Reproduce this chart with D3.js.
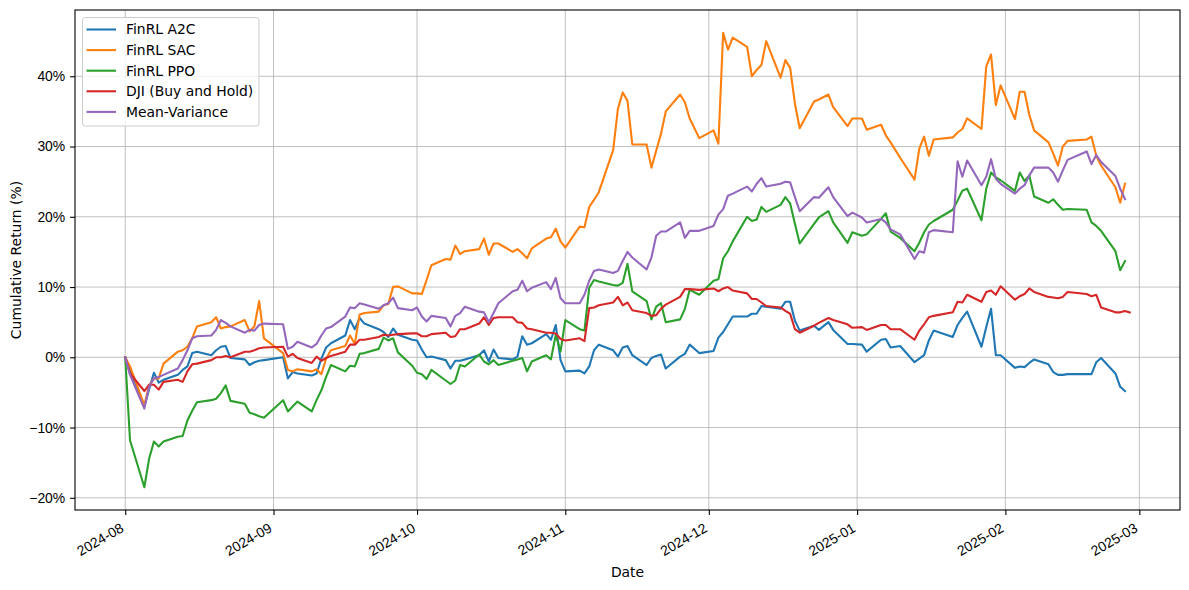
<!DOCTYPE html>
<html>
<head>
<meta charset="utf-8">
<script src="https://cdn.jsdelivr.net/npm/d3@7"></script>
<style>
    body { margin: 0; background: #fff; }
    svg { font-family: "DejaVu Sans", sans-serif; }
    .grid line { stroke: #b0b0b0; stroke-width: 0.8px; }
    .axis text { font-size: 13.9px; fill: #000; }
    .axis line, .axis path { stroke: #000; stroke-width: 1.1px; }
</style>
</head>
<body>
<div id="chart"></div>
<script>
"use strict";

// trading days shown on the chart (DJI has one more day than the strategies)
const dates = [
    "2024-08-01", "2024-08-02", "2024-08-05", "2024-08-06", "2024-08-07", "2024-08-08", "2024-08-09",
    "2024-08-12", "2024-08-13", "2024-08-14", "2024-08-15", "2024-08-16", "2024-08-19", "2024-08-20",
    "2024-08-21", "2024-08-22", "2024-08-23", "2024-08-26", "2024-08-27", "2024-08-28", "2024-08-29",
    "2024-08-30",
    "2024-09-03", "2024-09-04", "2024-09-05", "2024-09-06", "2024-09-09", "2024-09-10", "2024-09-11",
    "2024-09-12", "2024-09-13", "2024-09-16", "2024-09-17", "2024-09-18", "2024-09-19", "2024-09-20",
    "2024-09-23", "2024-09-24", "2024-09-25", "2024-09-26", "2024-09-27", "2024-09-30",
    "2024-10-01", "2024-10-02", "2024-10-03", "2024-10-04", "2024-10-07", "2024-10-08", "2024-10-09",
    "2024-10-10", "2024-10-11", "2024-10-14", "2024-10-15", "2024-10-16", "2024-10-17", "2024-10-18",
    "2024-10-21", "2024-10-22", "2024-10-23", "2024-10-24", "2024-10-25", "2024-10-28", "2024-10-29",
    "2024-10-30", "2024-10-31",
    "2024-11-01", "2024-11-04", "2024-11-05", "2024-11-06", "2024-11-07", "2024-11-08", "2024-11-11",
    "2024-11-12", "2024-11-13", "2024-11-14", "2024-11-15", "2024-11-18", "2024-11-19", "2024-11-20",
    "2024-11-21", "2024-11-22", "2024-11-25", "2024-11-26", "2024-11-27", "2024-11-29",
    "2024-12-02", "2024-12-03", "2024-12-04", "2024-12-05", "2024-12-06", "2024-12-09", "2024-12-10",
    "2024-12-11", "2024-12-12", "2024-12-13", "2024-12-16", "2024-12-17", "2024-12-18", "2024-12-19",
    "2024-12-20", "2024-12-23", "2024-12-24", "2024-12-26", "2024-12-27", "2024-12-30", "2024-12-31",
    "2025-01-02", "2025-01-03", "2025-01-06", "2025-01-07", "2025-01-08", "2025-01-10", "2025-01-13",
    "2025-01-14", "2025-01-15", "2025-01-16", "2025-01-17", "2025-01-21", "2025-01-22", "2025-01-23",
    "2025-01-24", "2025-01-27", "2025-01-28", "2025-01-29", "2025-01-30", "2025-01-31",
    "2025-02-03", "2025-02-04", "2025-02-05", "2025-02-06", "2025-02-07", "2025-02-10", "2025-02-11",
    "2025-02-12", "2025-02-13", "2025-02-14", "2025-02-18", "2025-02-19", "2025-02-20", "2025-02-21",
    "2025-02-24", "2025-02-25", "2025-02-26", "2025-02-27"
];

// cumulative return, %
const a2c = [
    0, -1.8, -7.0, -4.5, -2.2, -3.6, -3.2, -2.5, -1.8, -1.3, 0.6, 0.8, 0.3, 1.0, 1.5, 1.6, -0.1, -0.3, -1.1, -0.7, -0.5, -0.4,
    0, -3.0, -2.1, -2.3, -2.6, -2.3, -0.2, 1.4, 2.0, 3.1, 5.3, 4.0, 5.6, 4.8, 4.0, 3.6, 2.9, 4.1, 3.2, 2.5,
    2.4, 1.1, 0, 0.1, -0.4, -1.6, -0.5, -0.5, -0.3, 0.3, 1.0, -0.6, 1.1, -0.1, -0.3, 0.1, 3.0, 1.8, 2.0, 3.3, 2.5, 4.6, -0.4,
    -2.0, -1.9, -2.3, -1.3, 1.0, 1.8, 1.0, 0.1, 1.4, 1.6, 0.3, -1.1, -0.1, 0.2, 0.4, -1.6, 0.1, 0.5, 1.8, 0.6,
    0.9, 2.8, 3.6, 4.7, 5.8, 5.8, 6.2, 6.2, 7.3, 7.2, 6.9, 7.9, 7.9, 5.2, 3.8, 4.5, 3.9, 5.0, 3.9, 1.9, 1.9,
    1.8, 0.8, 2.5, 2.6, 1.4, 1.6, -0.7, -0.2, 0.3, 2.4, 3.8, 2.9, 4.6, 5.6, 6.5, 1.5, 4.3, 6.9, 0.3, 0.3,
    -1.5, -1.3, -1.4, -0.8, -0.3, -1.0, -2.1, -2.5, -2.5, -2.4, -2.4, -2.4, -0.7, -0.1, -2.3, -4.2, -4.8
];
const sac = [
    0, -1.3, -6.8, -4.0, -3.0, -3.0, -0.9, 0.8, 1.0, 1.5, 2.7, 4.4, 5.0, 5.7, 4.1, 4.3, 4.4, 5.3, 3.7, 4.4, 8.0, 2.7,
    0.6, -1.8, -2.0, -1.7, -2.0, -1.7, -2.4, -0.2, 1.0, 1.6, 3.1, 1.9, 6.1, 6.3, 6.5, 7.4, 7.6, 10.0, 10.1, 9.1,
    9.1, 9.0, 11.0, 13.1, 14.0, 13.9, 15.9, 14.7, 15.1, 15.4, 16.9, 14.6, 16.2, 16.2, 15.0, 15.4, 14.8, 14.1, 15.5, 16.9, 17.1, 18.3, 16.5,
    15.6, 18.6, 18.5, 21.4, 22.4, 23.5, 29.5, 35.4, 37.7, 36.5, 30.3, 30.3, 27.0, 29.4, 31.8, 35.0, 37.4, 36.3, 34.0, 31.2,
    32.3, 30.4, 46.2, 43.8, 45.5, 44.2, 40.0, 40.9, 41.6, 45.0, 39.8, 42.3, 41.2, 36.1, 32.6, 36.4, 36.7, 37.4, 35.6, 32.9, 34.0,
    34.0, 32.4, 33.1, 31.6, 30.6, 28.4, 25.3, 29.7, 31.4, 28.7, 31.0, 31.3, 32.0, 32.5, 34.0, 32.5, 41.4, 43.1, 35.9, 38.7,
    33.9, 37.8, 37.8, 34.5, 32.3, 30.6, 29.0, 27.3, 30.0, 30.8, 31.0, 31.4, 28.7, 27.3, 24.2, 22.0, 24.7
];
const ppo = [
    0, -11.8, -18.5, -14.4, -12.0, -12.7, -12.0, -11.3, -11.2, -9.0, -7.6, -6.4, -6.1, -5.9, -5.1, -4.0, -6.2, -6.6, -7.9, -8.1, -8.4, -8.6,
    -6.1, -7.7, -7.0, -6.3, -7.7, -6.1, -4.7, -2.8, -1.1, -2.0, -1.2, -1.3, 0.5, 0.6, 1.2, 2.8, 2.4, 2.7, 0.7, -1.2,
    -2.2, -2.4, -3.1, -1.8, -3.3, -3.8, -3.3, -1.1, -1.3, 0.4, -0.6, -1.0, -0.4, -1.1, -0.5, -0.3, -0.1, -2.0, -0.6, 0.3, -0.3, 3.2, 0.8,
    5.3, 4.0, 3.8, 9.9, 11.0, 10.8, 10.3, 10.2, 10.6, 13.3, 9.4, 8.0, 5.4, 7.2, 7.7, 5.0, 5.4, 6.9, 9.6, 8.9,
    10.9, 11.1, 14.1, 15.1, 16.5, 20.0, 19.4, 19.6, 21.4, 20.7, 21.7, 22.8, 21.9, 19.0, 16.2, 19.0, 19.9, 20.8, 19.2, 16.3, 17.8,
    17.3, 17.5, 19.7, 20.5, 17.9, 17.0, 15.1, 16.3, 17.8, 18.9, 19.4, 21.0, 22.3, 23.7, 24.0, 19.5, 24.0, 26.3, 25.6, 25.2,
    23.7, 26.3, 25.1, 25.9, 22.9, 22.0, 22.5, 21.7, 21.0, 21.1, 21.0, 19.2, 18.7, 18.0, 15.1, 12.4, 13.7
];
const dji = [
    0, -2.3, -4.8, -3.9, -3.9, -4.6, -3.5, -3.2, -3.5, -2.0, -1.0, -0.9, -0.4, 0, 0, 0.2, 0, 0.8, 0.8, 1.0, 1.3, 1.4,
    1.5, 0.1, 0.5, -0.1, -0.8, 0.1, -0.5, -0.1, 0.2, 0.8, 1.8, 1.8, 2.5, 2.5, 2.9, 3.2, 3.1, 3.2, 3.3, 3.4,
    3.4, 3.0, 3.0, 3.3, 3.5, 2.9, 3.0, 4.0, 4.0, 4.8, 5.7, 4.6, 5.6, 5.7, 5.7, 5.0, 4.9, 4.1, 4.0, 3.5, 3.5, 3.4, 2.6,
    2.4, 2.7, 2.3, 7.0, 7.1, 7.4, 7.8, 8.6, 7.4, 7.8, 6.7, 6.3, 5.9, 6.0, 6.9, 7.5, 8.6, 9.7, 9.7, 9.6,
    9.8, 9.4, 9.8, 10.0, 9.5, 9.1, 8.3, 8.3, 7.8, 7.3, 7.1, 6.6, 6.2, 4.0, 3.5, 4.5, 4.9, 5.6, 5.3, 4.7, 4.2,
    4.3, 3.9, 4.6, 4.6, 4.0, 4.0, 2.5, 3.8, 4.7, 5.7, 5.9, 6.4, 7.9, 7.8, 8.9, 7.9, 9.3, 9.5, 8.9, 10.1,
    8.2, 8.7, 9.0, 9.8, 9.3, 8.6, 8.5, 8.4, 8.6, 9.3, 9.0, 8.7, 8.9, 7.1, 6.4, 6.4, 6.6, 6.4
];
const meanVar = [
    0, -2.5, -7.3, -4.2, -3.0, -2.8, -2.5, -1.6, -0.4, 1.0, 2.7, 3.0, 3.1, 3.9, 5.3, 4.9, 4.4, 3.5, 3.9, 3.8, 4.6, 4.8,
    4.7, 1.2, 1.5, 2.2, 1.4, 1.9, 3.1, 4.1, 4.3, 5.8, 7.1, 7.0, 7.7, 7.5, 6.9, 7.4, 7.7, 8.5, 7.0, 6.7,
    7.1, 5.8, 5.1, 5.9, 5.6, 4.4, 5.9, 6.3, 7.2, 6.5, 6.4, 5.0, 6.3, 7.7, 9.4, 9.6, 10.9, 9.4, 9.9, 10.7, 9.7, 11.3, 8.4,
    7.7, 7.7, 8.9, 10.9, 12.3, 12.5, 12.0, 12.3, 13.7, 15.0, 14.2, 12.5, 14.2, 17.3, 17.9, 17.9, 19.2, 17.0, 18.0, 18.0,
    18.7, 20.3, 21.1, 23.0, 23.3, 24.3, 23.6, 24.7, 25.5, 24.3, 24.7, 25.0, 24.9, 22.8, 20.8, 22.8, 22.7, 24.2, 22.8, 20.1, 20.6,
    19.9, 19.2, 19.7, 19.2, 18.2, 17.5, 14.0, 15.1, 14.9, 17.8, 18.1, 17.8, 27.9, 25.7, 28.0, 24.5, 25.7, 28.2, 25.4, 24.7,
    23.3, 24.0, 24.5, 25.9, 27.0, 27.0, 26.3, 25.0, 26.6, 28.1, 29.3, 27.5, 28.8, 27.8, 25.8, 24.0, 22.5
];

const seriesNames = ["FinRL A2C", "FinRL SAC", "FinRL PPO", "DJI (Buy and Hold)", "Mean-Variance"];
const seriesColors = ["#1f77b4", "#ff7f0e", "#2ca02c", "#d62728", "#9467bd"];
const yTicks = [-20, -10, 0, 10, 20, 30, 40];

function drawChart() {
    const width = 1189;
    const height = 590;
    const margin = {top: 10, right: 9, bottom: 80, left: 75};
    const parseDate = d3.utcParse("%Y-%m-%d");
    const allValues = [a2c, sac, ppo, dji, meanVar];

    const series = allValues.map(function (vals, i) {
        return {
            name: seriesNames[i],
            color: seriesColors[i],
            points: vals.map(function (v, j) {
                return {date: parseDate(dates[j]), value: v};
            })
        };
    });

    const svg = d3.select("#chart").append("svg")
        .attr("width", width)
        .attr("height", height);

    // matplotlib style 5% padding on both axes
    const xExt = d3.extent(dates, parseDate);
    const xPad = (xExt[1] - xExt[0]) * 0.05;
    const flat = d3.merge(allValues);
    const yExt = d3.extent(flat);
    const yPad = (yExt[1] - yExt[0]) * 0.05;

    const xScale = d3.scaleUtc()
        .domain([new Date(+xExt[0] - xPad), new Date(+xExt[1] + xPad)])
        .range([margin.left, width - margin.right]);
    const yScale = d3.scaleLinear()
        .domain([yExt[0] - yPad, yExt[1] + yPad])
        .range([height - margin.bottom, margin.top]);

    const monthTicks = xScale.ticks(d3.utcMonth.every(1));
    const fmtPct = function (d) {
        return (d < 0 ? "\u2212" : "") + Math.abs(d) + "%";
    };

    // grid
    const grid = svg.append("g").attr("class", "grid");
    grid.selectAll(".gx").data(monthTicks).enter().append("line")
        .attr("x1", function (d) { return xScale(d); })
        .attr("x2", function (d) { return xScale(d); })
        .attr("y1", margin.top)
        .attr("y2", height - margin.bottom);
    grid.selectAll(".gy").data(yTicks).enter().append("line")
        .attr("x1", margin.left)
        .attr("x2", width - margin.right)
        .attr("y1", function (d) { return yScale(d); })
        .attr("y2", function (d) { return yScale(d); });

    // lines
    const line = d3.line()
        .x(function (d) { return xScale(d.date); })
        .y(function (d) { return yScale(d.value); });
    svg.append("g").selectAll("path").data(series).enter().append("path")
        .attr("d", function (d) { return line(d.points); })
        .attr("fill", "none")
        .attr("stroke", function (d) { return d.color; })
        .attr("stroke-width", 2.1)
        .attr("stroke-linejoin", "round")
        .attr("stroke-linecap", "square");

    // axes
    const xAxis = d3.axisBottom(xScale)
        .tickValues(monthTicks)
        .tickFormat(d3.utcFormat("%Y-%m"))
        .tickSize(4.9)
        .tickPadding(3.5);
    const yAxis = d3.axisLeft(yScale)
        .tickValues(yTicks)
        .tickFormat(fmtPct)
        .tickSize(4.9)
        .tickPadding(4.9);

    const gx = svg.append("g")
        .attr("class", "x axis")
        .attr("transform", "translate(0," + (height - margin.bottom) + ")")
        .call(xAxis);
    gx.select(".domain").remove();
    // rotated labels, right edge of the label box on the tick
    gx.selectAll(".tick text")
        .attr("text-anchor", "end")
        .attr("dy", "0.75em")
        .attr("transform", "translate(-10.5,4.5) rotate(-30)");

    const gy = svg.append("g")
        .attr("class", "y axis")
        .attr("transform", "translate(" + margin.left + ",0)")
        .call(yAxis);
    gy.select(".domain").remove();

    // frame
    svg.append("rect")
        .attr("x", margin.left)
        .attr("y", margin.top)
        .attr("width", width - margin.left - margin.right)
        .attr("height", height - margin.top - margin.bottom)
        .attr("fill", "none")
        .attr("stroke", "#000")
        .attr("stroke-width", 1.1);

    // axis labels
    svg.append("text")
        .attr("x", (margin.left + width - margin.right) / 2)
        .attr("y", 577)
        .attr("text-anchor", "middle")
        .style("font-size", "13.9px")
        .text("Date");
    svg.append("text")
        .attr("transform", "translate(21," + ((margin.top + height - margin.bottom) / 2) + ") rotate(-90)")
        .attr("text-anchor", "middle")
        .style("font-size", "13.9px")
        .text("Cumulative Return (%)");

    // legend
    const legend = svg.append("g").attr("transform", "translate(82.5,17.5)");
    legend.append("rect")
        .attr("width", 176.5)
        .attr("height", 108.5)
        .attr("rx", 3)
        .attr("fill", "#fff")
        .attr("fill-opacity", 0.8)
        .attr("stroke", "#cccccc")
        .attr("stroke-width", 1);
    const item = legend.selectAll(".item").data(series).enter().append("g")
        .attr("transform", function (d, i) { return "translate(0," + (12 + i * 20.6) + ")"; });
    item.append("line")
        .attr("x1", 4)
        .attr("x2", 33.5)
        .attr("stroke", function (d) { return d.color; })
        .attr("stroke-width", 2.1);
    item.append("text")
        .attr("x", 43.5)
        .attr("dy", "0.35em")
        .style("font-size", "13.9px")
        .text(function (d) { return d.name; });
}

drawChart();
</script>
</body>
</html>
